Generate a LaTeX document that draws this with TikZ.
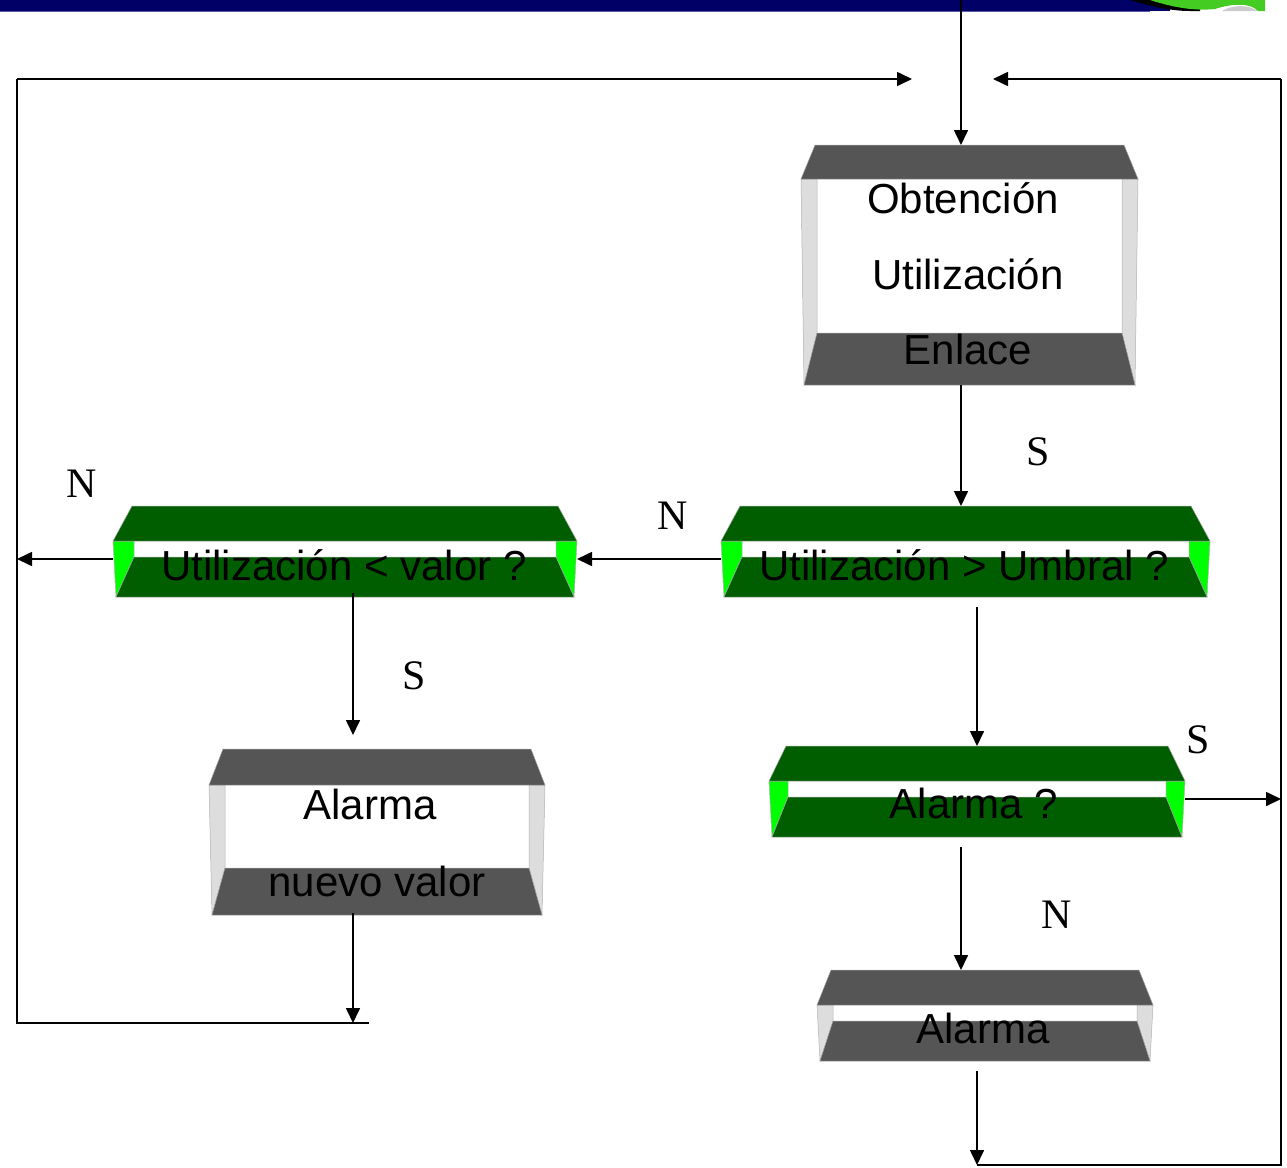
\documentclass[tikz,border=0pt]{standalone}
\usepackage{fontspec}
\setmainfont{Liberation Serif}
\newfontfamily\arialf{Liberation Sans}
\usetikzlibrary{arrows.meta}
\definecolor{navy}{HTML}{000066}
\definecolor{greyface}{HTML}{555555}
\definecolor{greyside}{HTML}{DDDDDD}
\definecolor{greenface}{HTML}{005E00}
\definecolor{greenside}{HTML}{00FF00}
\definecolor{blobgreen}{HTML}{44CC22}
% name, L, R, Ttop, Ffront, Iinner, Bbottom, inset, colour prefix
\newcommand\tdbox[9]{%
  \fill[#9side,draw=gray!60,line width=0.5pt] ({#2},{#5}) -- ({#2+#8},{#5}) -- ({#2+#8},{#6}) -- ({#2+3},{#7}) -- cycle;
  \fill[#9side,draw=gray!60,line width=0.5pt] ({#3},{#5}) -- ({#3-#8},{#5}) -- ({#3-#8},{#6}) -- ({#3-3},{#7}) -- cycle;
  \fill[#9face,draw=gray!70,line width=0.5pt] ({#2+#8-2},{#4}) -- ({#3-#8+2},{#4}) -- ({#3},{#5}) -- ({#2},{#5}) -- cycle;
  \fill[#9face,draw=gray!70,line width=0.5pt] ({#2+#8},{#6}) -- ({#3-#8},{#6}) -- ({#3-3},{#7}) -- ({#2+3},{#7}) -- cycle;
  \node[inner sep=0pt,outer sep=0pt,minimum width={(#3-#2)*1pt},minimum height={(#7-#4)*1pt}] (#1) at ({(#2+#3)/2},{(#4+#7)/2}) {};
}
\tikzset{
  arr/.style={-{Triangle[length=15pt,width=14pt]},line width=1.6pt},
  ln/.style={line width=1.6pt},
  boxtext/.style={font=\arialf\fontsize{42}{50}\selectfont,anchor=base,inner sep=0pt},
  yn/.style={font=\fontsize{42}{48}\selectfont,inner sep=0pt}
}
\begin{document}
\begin{tikzpicture}[x=1pt,y=-1pt]
\useasboundingbox (0,0) rectangle (1287,1167);
% banner
\fill[navy] (0,0) rectangle (1170,11);
\draw[line width=0.8pt,color=blue!30!gray] (0,11) -- (1150,11);
\fill[black] (1130,0) .. controls (1150,6) and (1170,11) .. (1190,11) -- (1200,11) -- (1200,0) -- cycle;
\fill[blobgreen] (1150,0) .. controls (1175,8) and (1195,11) .. (1215,9) .. controls (1230,4) and (1250,2) .. (1258,11) -- (1265,11) -- (1265,0) -- cycle;
\fill[gray!40] (1222,11) .. controls (1232,5) and (1248,4) .. (1258,11) -- cycle;

% shapes
\tdbox{b1}{801}{1138}{145}{179}{333}{385}{16}{grey}
\tdbox{g1}{721}{1210}{506}{541}{557}{597}{21}{green}
\tdbox{g2}{113}{577}{506}{541}{557}{597}{21}{green}
\tdbox{g3}{769}{1185}{746}{781}{797}{837}{19}{green}
\tdbox{a1}{209}{545}{749}{785}{868}{915}{16}{grey}
\tdbox{a2}{817}{1153}{970}{1005}{1021}{1061}{16}{grey}

% texts
\node[boxtext] (t1) at (963,213) {Obtención};
\node[boxtext] (t2) at (968,289) {Utilización};
\node[boxtext] (t3) at (968,364) {Enlace};
\node[boxtext] (t4) at (964,580) {Utilización > Umbral ?};
\node[boxtext] (t5) at (344,580) {Utilización < valor ?};
\node[boxtext] (t6) at (974,818) {Alarma ?};
\node[boxtext] (t7) at (370,819) {Alarma};
\node[boxtext] (t8) at (377,896) {nuevo valor};
\node[boxtext] (t9) at (983,1043) {Alarma};

% labels
\node[yn] (s1) at (1038,452) {S};
\node[yn] (n1) at (673,516) {N};
\node[yn] (n2) at (82,484) {N};
\node[yn] (s2) at (414,676) {S};
\node[yn] (s3) at (1198,740) {S};
\node[yn] (n3) at (1057,915) {N};

% helper coordinates
\coordinate (topin) at (961,0);
\coordinate (tipL) at (912,79);
\coordinate (tipR) at (993,79);
\coordinate (cTL) at (17,79);
\coordinate (cBL) at (17,1023);
\coordinate (endBL) at (369,1023);
\coordinate (cTR) at (1281,79);
\coordinate (cBR) at (1281,1165);
\coordinate (yA) at (0,559);
\coordinate (yB) at (0,799);
\coordinate (xC) at (353,0);
\coordinate (g1out) at (977,607);
\coordinate (g2out) at (353,593);
\coordinate (a1out) at (353,913);
\coordinate (g3out) at (961,847);
\coordinate (a2out) at (977,1071);

% connectors
\draw[arr] (topin) -- (topin |- b1.north);
\draw[arr] (b1.south -| topin) -- (g1.north -| topin);
\draw[arr] (g1.west |- yA) -- (g2.east |- yA);
\draw[arr] (g2.west |- yA) -- (cTL |- yA);
\draw[arr] (g2out) -- ([yshift=14pt]a1.north -| xC);
\draw[arr] (a1out) -- (endBL -| xC);
\draw[ln] (endBL) -- (cBL) -- (cTL);
\draw[arr] (cTL) -- (tipL);
\draw[arr] (g1out) -- (g3.north);
\draw[arr] (g3.east |- yB) -- (cTR |- yB);
\draw[arr] (g3out) -- (a2.north -| g3out);
\draw[arr] (a2out) -- (a2out |- cBR);
\draw[ln] (a2out |- cBR) -- (cBR) -- (cTR);
\draw[arr] (cTR) -- (tipR);
\end{tikzpicture}
\end{document}
